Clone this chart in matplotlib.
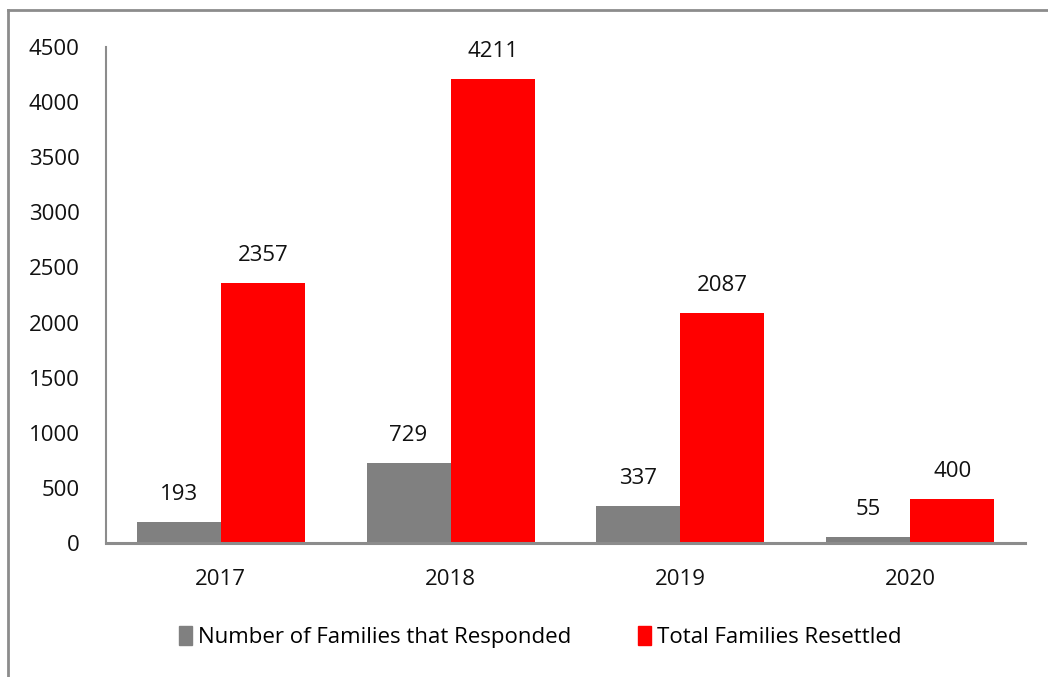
import matplotlib
matplotlib.use("Agg")
import matplotlib.pyplot as plt
import numpy as np
from matplotlib.lines import Line2D
from matplotlib.patches import Patch

years = ["2017", "2018", "2019", "2020"]
responded = [193, 729, 337, 55]
resettled = [2357, 4211, 2087, 400]

W, H = 1048, 677
fig = plt.figure(figsize=(W / 100, H / 100), dpi=100)
plt.rcParams["font.family"] = ["Open Sans", "DejaVu Sans"]
FS = 16

ax = fig.add_axes([106 / W, 1 - 543 / H, (1025 - 106) / W, (543 - 47) / H])
x = np.arange(len(years))
bw = 0.366
b1 = ax.bar(x - bw / 2, responded, width=bw, color="#808080")
b2 = ax.bar(x + bw / 2, resettled, width=bw, color="#ff0000")

for bars, vals in ((b1, responded), (b2, resettled)):
    for r, v in zip(bars, vals):
        ax.annotate(str(v), (r.get_x() + r.get_width() / 2, v),
                    xytext=(0, 17), textcoords="offset pixels",
                    ha="center", va="bottom", fontsize=FS, color="#111111")

ax.set_xlim(-0.5, len(years) - 0.5)
ax.set_ylim(0, 4500)
ax.set_yticks(np.arange(0, 4501, 500))
ax.set_xticks(x)
ax.set_xticklabels(years)
ax.tick_params(length=0, labelsize=FS, colors="#111111")
ax.tick_params(axis="y", pad=19)
ax.tick_params(axis="x", pad=19)
for s in ("top", "right"):
    ax.spines[s].set_visible(False)
ax.spines["left"].set_color("#8c8c8c")
ax.spines["left"].set_linewidth(1.5)
ax.spines["bottom"].set_color("#8c8c8c")
ax.spines["bottom"].set_linewidth(2.2)

handles = [Patch(color="#808080"), Patch(color="#ff0000")]
fig.legend(handles, ["Number of Families that Responded", "Total Families Resettled"],
           loc="center", bbox_to_anchor=(540 / W, 1 - 637 / H), ncol=2, frameon=False,
           fontsize=FS, handlelength=0.6, handleheight=0.9, handletextpad=0.25,
           columnspacing=3.0)

# outer frame on left and top
fig.add_artist(Line2D([8 / W, 8 / W], [0, 1 - 10 / H], transform=fig.transFigure,
                      color="#8c8c8c", lw=2))
fig.add_artist(Line2D([8 / W, 1], [1 - 10 / H, 1 - 10 / H], transform=fig.transFigure,
                      color="#8c8c8c", lw=2))

fig.savefig("out.png", dpi=100)
